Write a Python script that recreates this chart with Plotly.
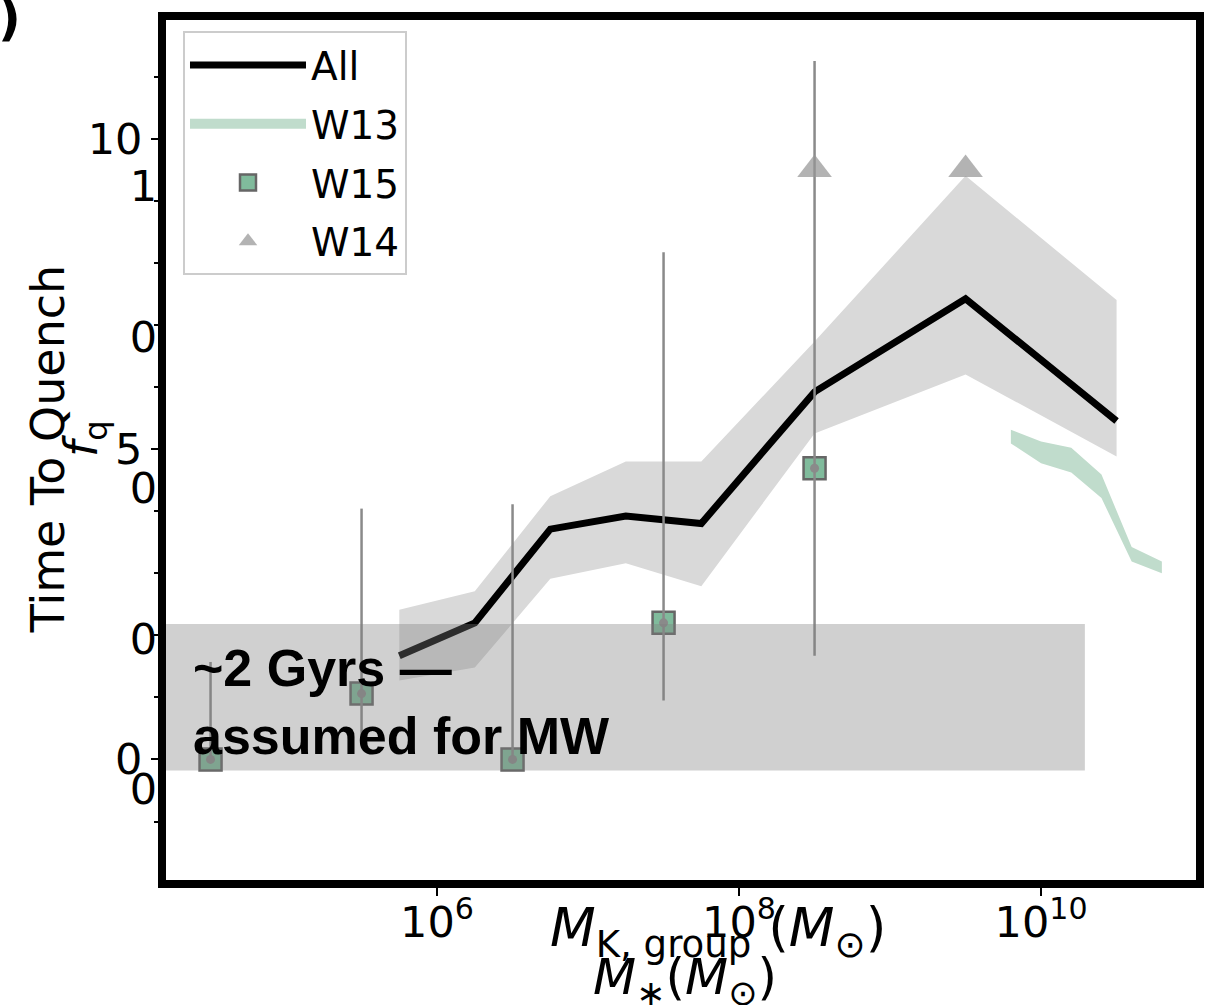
import plotly.graph_objects as go

# ---- data (log10 stellar mass bins, quenching time in Gyr) ----
all_logm = [5.75, 6.25, 6.75, 7.25, 7.75, 8.5, 9.5, 10.5]
all_tq = [1.67, 2.20, 3.71, 3.92, 3.80, 5.92, 7.42, 5.45]
all_hi = [2.41, 2.71, 4.24, 4.80, 4.80, 6.73, 9.40, 7.40]
all_lo = [1.27, 1.48, 2.91, 3.16, 2.79, 5.25, 6.20, 4.88]

w13_logm = [9.8, 10.0, 10.2, 10.4, 10.6, 10.8]
w13_hi = [5.31, 5.12, 5.02, 4.59, 3.42, 3.19]
w13_lo = [5.09, 4.77, 4.62, 4.21, 3.19, 3.00]

w15_logm = [4.5, 5.5, 6.5, 7.5, 8.5]
w15_tq = [0.0, 1.06, 0.0, 2.20, 4.69]
w15_err_up = [1.57, 2.98, 4.11, 5.97, 6.56]
w15_err_dn = [0.0, 0.84, 0.0, 1.25, 3.02]

w14_logm = [8.5, 9.5]
w14_tq = [9.5, 9.5]

mw_band = [-0.18, 2.18]          # assumed MW quenching time window (Gyr)
mw_band_xmax = 10.29             # log10 mass where the MW band ends

fq_ticks = [0.2, 0.4, 0.6, 0.8, 1.0]
fq_labels = ["0", "0", "0", "0", "1"]

x_tickvals = [1e6, 1e8, 1e10]
x_ticktext = ["10<sup>6</sup>", "10<sup>8</sup>", "10<sup>10</sup>"]

xrange_log = [4.205, 11.026]
yrange = [-1.942, 11.91]
y2range = [0.0794, 1.2209]

W13_COLOR = "#c0dccc"

def lin(v):
    return [10 ** a for a in v]

fig = go.Figure()

# shaded spread of the full sample
fig.add_trace(go.Scatter(
    x=lin(all_logm) + lin(all_logm[::-1]),
    y=all_hi + all_lo[::-1],
    fill="toself", fillcolor="#d9d9d9", mode="lines",
    line=dict(width=0), showlegend=False, hoverinfo="skip"))

# W13 band
fig.add_trace(go.Scatter(
    x=lin(w13_logm) + lin(w13_logm[::-1]),
    y=w13_hi + w13_lo[::-1],
    fill="toself", fillcolor=W13_COLOR, mode="lines",
    line=dict(width=0, color=W13_COLOR), showlegend=False,
    legendgroup="g2", hoverinfo="skip"))
# legend swatch for the W13 band
fig.add_trace(go.Scatter(
    x=[None], y=[None], mode="lines",
    line=dict(width=25, color=W13_COLOR), name="W13", legendrank=2,
    legendgroup="g2"))

# median relation
fig.add_trace(go.Scatter(
    x=lin(all_logm), y=all_tq, mode="lines",
    line=dict(color="black", width=7), name="All", legendrank=1,
    legendgroup="g1"))

# W15 squares
fig.add_trace(go.Scatter(
    x=lin(w15_logm), y=w15_tq, mode="markers",
    marker=dict(symbol="square", size=22, color="#80bb9c",
                line=dict(color="#666666", width=2.5)),
    name="W15", legendrank=3, legendgroup="g3"))

# W15 error bars with small central dots
fig.add_trace(go.Scatter(
    x=lin(w15_logm), y=w15_tq, mode="markers",
    marker=dict(symbol="circle", size=9, color="#8a8a8a"),
    error_y=dict(type="data", symmetric=False, array=w15_err_up,
                 arrayminus=w15_err_dn, color="#8a8a8a", thickness=2.5,
                 width=0),
    showlegend=False, hoverinfo="skip"))

# W14 triangles
fig.add_trace(go.Scatter(
    x=lin(w14_logm), y=w14_tq, mode="markers",
    marker=dict(symbol="triangle-up", size=30, color="rgba(150,150,150,0.72)",
                line=dict(width=0)),
    name="W14", legendrank=4, legendgroup="g4"))

# fraction axis shares the left side
fig.add_trace(go.Scatter(x=[None], y=[None], yaxis="y2", showlegend=False,
                         hoverinfo="skip"))

# assumed MW quenching window
fig.add_shape(type="rect", xref="x", yref="y",
              x0=10 ** (xrange_log[0] - 0.2), x1=10 ** mw_band_xmax,
              y0=mw_band[0], y1=mw_band[1],
              fillcolor="rgba(125,125,125,0.36)", line=dict(width=0),
              layer="above")

fig.add_annotation(x=xrange_log[0] + 0.165, y=0.93, xref="x", yref="y",
                   text="<b>~2 Gyrs —<br>assumed for MW</b>", showarrow=False,
                   xanchor="left", yanchor="middle", align="left",
                   font=dict(family="Liberation Sans, Arial", size=52,
                             color="black"))

tick_font = dict(family="DejaVu Sans", size=43, color="black")
title_font = dict(family="DejaVu Sans", size=46, color="black")

# axis titles
fig.add_annotation(x=-0.1146, y=0.502, xref="paper", yref="paper",
                   xanchor="center", yanchor="middle",
                   text="Time To Quench", textangle=-90, showarrow=False,
                   font=title_font)
fig.add_annotation(x=-0.0787, y=0.514, xref="paper", yref="paper",
                   xanchor="center", yanchor="middle",
                   text="<i>f</i><sub>q</sub>", textangle=-90, showarrow=False,
                   font=title_font)
fig.add_annotation(x=0.536, y=-0.060, xref="paper", yref="paper",
                   xanchor="center", yanchor="middle",
                   text="<i>M</i><sub>K, group</sub> (<i>M</i><sub>⊙</sub>)",
                   showarrow=False,
                   font=dict(family="DejaVu Sans", size=53, color="black"))
fig.add_annotation(x=0.504, y=-0.117, xref="paper", yref="paper",
                   xanchor="center", yanchor="middle",
                   text="<i>M</i><sub>∗</sub>(<i>M</i><sub>⊙</sub>)",
                   showarrow=False,
                   font=dict(family="DejaVu Sans", size=50, color="black"))
fig.add_annotation(x=-0.1524, y=1.002, xref="paper", yref="paper",
                   xanchor="center", yanchor="middle",
                   text="<b>)</b>", showarrow=False,
                   font=dict(family="DejaVu Sans", size=50, color="black"))

fig.update_layout(
    width=1217, height=1005,
    margin=dict(l=166, r=21, t=17, b=125),
    paper_bgcolor="white", plot_bgcolor="white",
    showlegend=True,
    legend=dict(x=0.0165, y=0.987, xanchor="left", yanchor="top",
                font=dict(family="DejaVu Sans", size=39, color="black"),
                bgcolor="rgba(255,255,255,0.85)", bordercolor="#cccccc",
                borderwidth=2, tracegroupgap=5, itemwidth=116),
    xaxis=dict(type="log", range=xrange_log, tickvals=x_tickvals,
               ticktext=x_ticktext, ticks="outside", ticklen=8, tickwidth=2,
               tickcolor="black", showline=True, linewidth=8,
               linecolor="black", mirror=True, showgrid=False,
               zeroline=False, tickfont=tick_font, ticklabelstandoff=-11),
    yaxis=dict(range=yrange, tickvals=[0, 5, 10], ticks="outside",
               ticklen=7, tickwidth=2, tickcolor="black", showline=True,
               linewidth=8, linecolor="black", mirror=True, showgrid=False,
               zeroline=False, tickfont=tick_font,
               minor=dict(dtick=1, tick0=0, ticks="outside", ticklen=4,
                          tickwidth=1.5, tickcolor="black")),
    yaxis2=dict(range=y2range, overlaying="y", side="left",
                tickvals=fq_ticks, ticktext=fq_labels, ticks="",
                showline=False, showgrid=False, zeroline=False,
                tickfont=tick_font, ticklabelstandoff=8),
)

fig.write_html("out.html")
